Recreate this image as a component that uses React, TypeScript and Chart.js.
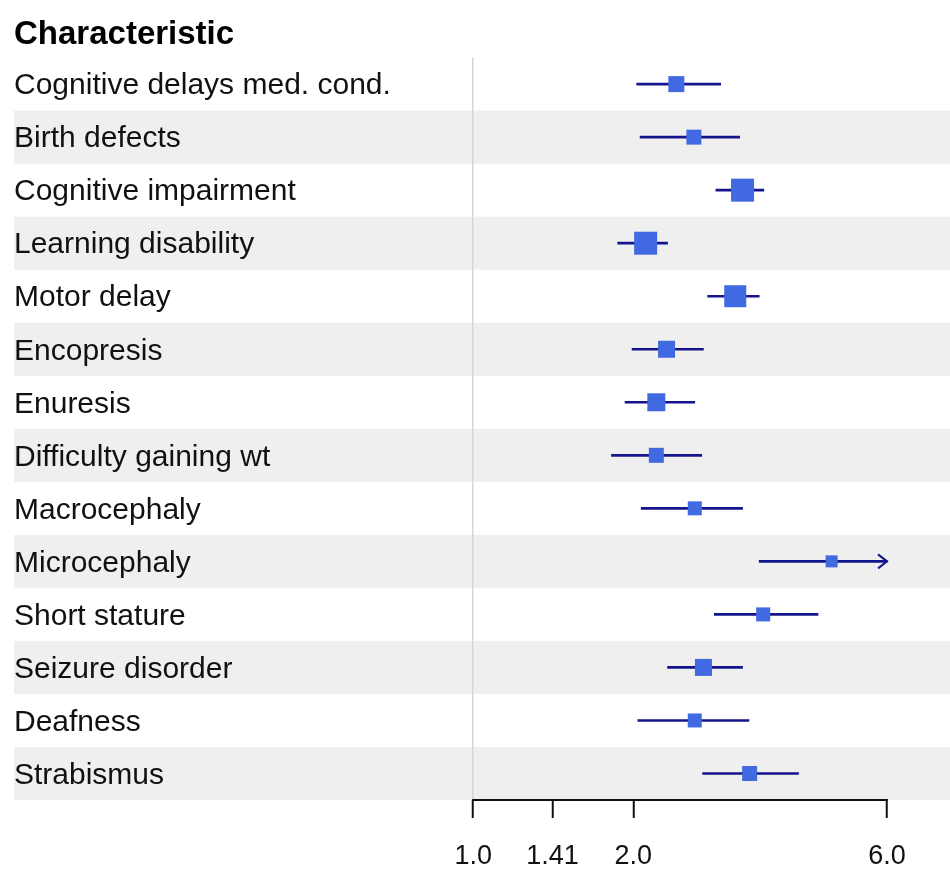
import React, { useEffect, useRef } from "react";
import { Chart, registerables } from "chart.js";

Chart.register(...registerables);

const categories = [
  "Cognitive delays med. cond.",
  "Birth defects",
  "Cognitive impairment",
  "Learning disability",
  "Motor delay",
  "Encopresis",
  "Enuresis",
  "Difficulty gaining wt",
  "Macrocephaly",
  "Microcephaly",
  "Short stature",
  "Seizure disorder",
  "Deafness",
  "Strabismus",
];
const estimates = [2.41, 2.6, 3.21, 2.11, 3.11, 2.31, 2.21, 2.21, 2.61, 4.72, 3.51, 2.71, 2.61, 3.31];
const lower = [2.03, 2.06, 2.86, 1.87, 2.76, 1.99, 1.93, 1.82, 2.07, 3.45, 2.84, 2.32, 2.04, 2.7];
const upper = [2.92, 3.17, 3.52, 2.32, 3.45, 2.71, 2.61, 2.69, 3.21, 7.5, 4.45, 3.21, 3.3, 4.09];
const weights = [16, 15, 23, 23, 22, 17, 18, 15, 14, 12, 14, 17, 14, 15];
const tickValues = [1.0, 1.41, 2.0, 6.0];
const tickLabels = ["1.0", "1.41", "2.0", "6.0"];
const headerText = "Characteristic";

const FONT = "'Liberation Sans', Arial, Helvetica, sans-serif";
const LINE_COLOR = "#14148e";
const BOX_COLOR = "#4169e1";
const BAND_COLOR = "#efefef";

export default function App() {
  const ref = useRef<HTMLCanvasElement | null>(null);

  useEffect(() => {
    const canvas = ref.current;
    if (!canvas) return;
    const clipAt = tickValues[tickValues.length - 1];
    const refValue = tickValues[0];

    const bandsPlugin = {
      id: "bands",
      beforeDraw(chart: any) {
        const { ctx, chartArea, scales } = chart;
        const y = scales.y;
        const h = (chartArea.bottom - chartArea.top) / categories.length;
        ctx.save();
        ctx.fillStyle = BAND_COLOR;
        categories.forEach((_, i) => {
          if (i % 2 === 1) {
            const cy = y.getPixelForValue(i);
            ctx.fillRect(chartArea.left, cy - h / 2, chartArea.right - chartArea.left, h);
          }
        });
        ctx.restore();
      },
      afterDatasetsDraw(chart: any) {
        const { ctx, chartArea, scales } = chart;
        const x = scales.x;
        const y = scales.y;
        ctx.save();
        ctx.strokeStyle = LINE_COLOR;
        ctx.lineWidth = 2;
        upper.forEach((u, i) => {
          if (u > clipAt) {
            const px = x.getPixelForValue(clipAt);
            const py = y.getPixelForValue(i);
            ctx.beginPath();
            ctx.moveTo(px - 9, py - 7);
            ctx.lineTo(px, py);
            ctx.lineTo(px - 9, py + 7);
            ctx.stroke();
          }
        });
        ctx.strokeStyle = "#111";
        ctx.lineWidth = 2;
        ctx.beginPath();
        ctx.moveTo(x.getPixelForValue(refValue) - 1, chartArea.bottom);
        ctx.lineTo(x.getPixelForValue(clipAt) + 1, chartArea.bottom);
        ctx.stroke();
        ctx.restore();
      },
    };

    const chart = new Chart(canvas, {
      type: "bar",
      data: {
        labels: categories,
        datasets: [
          {
            type: "line",
            indexAxis: "y",
            data: estimates,
            showLine: false,
            pointStyle: "rect",
            pointRadius: weights.map((w) => w / Math.SQRT2),
            pointHoverRadius: weights.map((w) => w / Math.SQRT2),
            pointBackgroundColor: BOX_COLOR,
            pointBorderColor: BOX_COLOR,
            pointBorderWidth: 0,
            clip: false,
            order: 0,
          } as any,
          {
            type: "bar",
            data: lower.map((l, i) => [l, Math.min(upper[i], clipAt)]),
            backgroundColor: LINE_COLOR,
            borderWidth: 0,
            barThickness: 2,
            order: 1,
          } as any,
        ],
      },
      options: {
        indexAxis: "y",
        responsive: false,
        animation: false,
        events: [],
        layout: { autoPadding: false, padding: { left: 14, right: 0, top: 0, bottom: 3 } },
        plugins: {
          legend: { display: false },
          tooltip: { enabled: false },
          title: {
            display: true,
            text: headerText,
            align: "start",
            color: "#000",
            font: { family: FONT, size: 33, weight: "bold" },
            padding: { top: 15, bottom: 3 },
          },
        },
        scales: {
          x: {
            type: "logarithmic",
            min: 0.137,
            max: 7.88,
            bounds: "data",
            afterBuildTicks: (scale: any) => {
              scale.ticks = tickValues.map((v) => ({ value: v }));
            },
            afterFit: (scale: any) => {
              scale.height = 73;
            },
            ticks: {
              autoSkip: false,
              maxRotation: 0,
              color: "#111",
              padding: 22,
              font: { family: FONT, size: 27 },
              callback: (_v: any, i: number) => tickLabels[i],
            },
            grid: {
              color: (c: any) => (c.tick && c.tick.value === refValue ? "#d6d6d6" : "rgba(0,0,0,0)"),
              lineWidth: 1.5,
              tickColor: "#111",
              tickWidth: 2,
              tickLength: 18,
              drawTicks: true,
            },
            border: { display: false },
          },
          y: {
            type: "category",
            offset: true,
            ticks: {
              mirror: true,
              padding: 0,
              labelOffset: 2,
              color: "#111",
              font: { family: FONT, size: 30 },
            },
            grid: { display: false, drawTicks: false },
            border: { display: false },
            afterFit: (scale: any) => {
              scale.width = 0;
            },
          },
        },
      },
      plugins: [bandsPlugin],
    } as any);

    return () => chart.destroy();
  }, []);

  return (
    <div style={{ position: "absolute", left: 0, top: 0, width: 950, height: 876, background: "#fff" }}>
      <canvas ref={ref} width={950} height={876} style={{ display: "block" }} />
    </div>
  );
}
